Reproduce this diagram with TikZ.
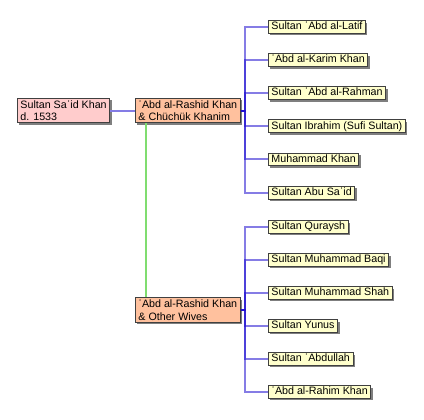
\documentclass[tikz,border=0pt]{standalone}
\usepackage{fontspec}
\setmainfont{Liberation Sans}
\usepackage{tikz}
\usetikzlibrary{positioning,shadows}
\definecolor{rootpink}{HTML}{FFCCCC}
\definecolor{wifepeach}{HTML}{FFC19E}
\definecolor{childyellow}{HTML}{FFFFCC}
\definecolor{kidblue}{HTML}{2010D0}
\definecolor{linegreen}{HTML}{80DD70}
\definecolor{boxgray}{HTML}{404040}
\tikzset{>=latex}
\tikzset{
  person/.style={draw=boxgray, line width=0.9bp, align=left,
    inner xsep=3bp, inner ysep=2bp,
    font=\fontsize{10.7bp}{12.5bp}\selectfont,
    drop shadow={shadow xshift=2bp, shadow yshift=-2bp, opacity=0.5, fill=black}},
  rootbox/.style={person, fill=rootpink},
  wifebox/.style={person, fill=wifepeach},
  childbox/.style={person, fill=childyellow, inner ysep=1.2bp,
    text height=8bp, text depth=2.5bp},
  kidline/.style={line width=2bp, draw=kidblue, opacity=0.55},
  spouseline/.style={line width=2bp, draw=kidblue!55},
  descline/.style={line width=2bp, draw=linegreen}
}
\begin{document}
\begin{tikzpicture}[x=1bp, y=-1bp]
  \useasboundingbox (0,0) rectangle (424,420);
  % parents
  \node[rootbox, anchor=west] (said) at (17,110.5) {Sultan Saʿid Khan\\d. 1533};
  \node[wifebox, anchor=west] (wifeA) at (135,110.5) {ʿAbd al-Rashid Khan\\\& Chüchük Khanim};
  \node[wifebox, anchor=west] (wifeB) at (135,310) {ʿAbd al-Rashid Khan\\\& Other Wives};
  \coordinate (axis) at (245,0);
  \coordinate (busA) at (wifeA.east -| axis);
  \coordinate (busB) at (wifeB.east -| axis);
  % children with Chuchuk Khanim
  \foreach \t [count=\i] in {Sultan ʿAbd al-Latif, ʿAbd al-Karim Khan,
      Sultan ʿAbd al-Rahman, Sultan Ibrahim (Sufi Sultan), Muhammad Khan,
      Sultan Abu Saʿid}
  {
    \node[childbox, anchor=west] (kidA\i) at (268,{27+33.1*(\i-1)}) {\t};
    \draw[kidline] (wifeA.east) -- (busA) |- (kidA\i.west);
  }
  % children with other wives
  \foreach \t [count=\i] in {Sultan Quraysh, Sultan Muhammad Baqi,
      Sultan Muhammad Shah, Sultan Yunus, Sultan ʿAbdullah,
      ʿAbd al-Rahim Khan}
  {
    \node[childbox, anchor=west] (kidB\i) at (268,{227+33*(\i-1)}) {\t};
    \draw[kidline] (wifeB.east) -- (busB) |- (kidB\i.west);
  }
  \draw[spouseline] (said.east) -- (wifeA.west);
  \draw[descline] ([xshift=11bp]wifeA.south west) -- ([xshift=11bp]wifeB.north west);
\end{tikzpicture}
\end{document}
